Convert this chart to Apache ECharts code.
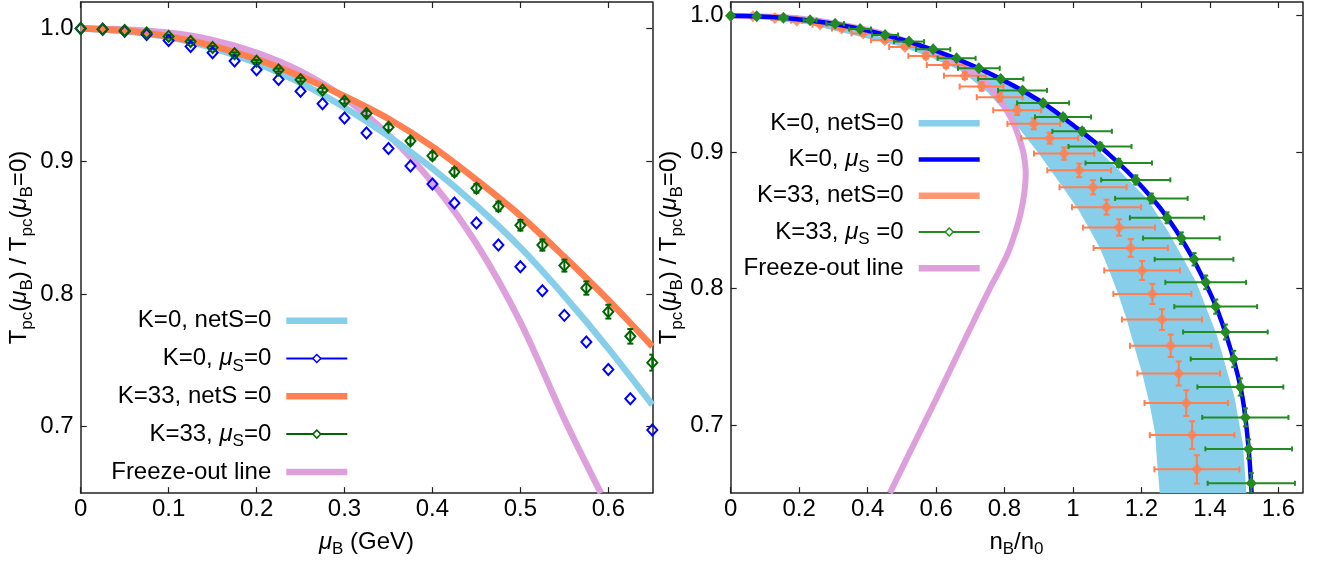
<!DOCTYPE html>
<html><head><meta charset="utf-8">
<script src="https://cdn.jsdelivr.net/npm/echarts@6/dist/echarts.min.js"></script>
<style>html,body{margin:0;padding:0;background:#fff}#c{width:1319px;height:563px}</style>
</head><body><div id="c"></div>
<script>
// ---------- Left panel: T_pc(muB)/T_pc(0) vs muB ----------
const muPts = [0,0.025,0.05,0.075,0.1,0.125,0.15,0.175,0.2,0.225,0.25,0.275,0.3,0.325,0.35,0.375,0.4,0.425,0.45,0.475,0.5,0.525,0.55,0.575,0.6,0.625,0.65,0.675,0.7,0.725,0.75];
// K=0, muS=0 (open blue diamonds), mu = 0 .. 0.65
const blueDiaT = [1.0,0.9995,0.998,0.9955,0.991,0.9865,0.9817,0.9755,0.969,0.9616,0.9528,0.9433,0.9326,0.9213,0.9096,0.8964,0.8828,0.8686,0.8535,0.837,0.8205,0.8025,0.7839,0.7638,0.7431,0.7211,0.6975];
// K=33, muS=0 (green diamonds), mu = 0 .. 0.75
const greenT = [1.0,0.9995,0.9985,0.9967,0.9941,0.9902,0.9858,0.981,0.9753,0.9687,0.9614,0.9536,0.9452,0.936,0.9257,0.9152,0.9041,0.892,0.8796,0.866,0.8518,0.8369,0.8214,0.8045,0.7867,0.7681,0.7483,0.7278,0.7055,0.6824,0.6572];
const greenTErr = [0,0,0,0,0.001,0.001,0.001,0.001,0.001,0.0012,0.0014,0.0016,0.0018,0.002,0.0022,0.0025,0.0027,0.003,0.0033,0.0036,0.004,0.0042,0.0045,0.005,0.0052,0.0055,0.006,0.0063,0.0066,0.007,0.0075];
// curves
const lineMu = [0,0.05,0.1,0.15,0.2,0.25,0.3,0.35,0.4,0.45,0.5,0.55,0.6,0.65];
const skyT = [1.0,0.998,0.9935,0.9855,0.974,0.959,0.9405,0.919,0.8945,0.8665,0.835,0.7985,0.759,0.7165];
const coralT = [1.0,0.9985,0.994,0.987,0.977,0.964,0.949,0.932,0.911,0.886,0.859,0.828,0.7955,0.7605];
const pinkMu = [0,0.05,0.1,0.15,0.2,0.25,0.3,0.35,0.4,0.45,0.5,0.55,0.5916];
const pinkT = [1.0,0.9993,0.9968,0.9913,0.9818,0.9678,0.9478,0.9198,0.8838,0.8378,0.7788,0.7058,0.65];

// ---------- Right panel: T vs nB/n0 ----------
const greenN = [0,0.076,0.154,0.232,0.305,0.378,0.451,0.521,0.5915,0.66,0.725,0.789,0.8525,0.9127,0.971,1.0267,1.079,1.1337,1.1834,1.229,1.2748,1.3167,1.3537,1.3878,1.417,1.4453,1.4695,1.489,1.5036,1.5133,1.521];
const greenNErr = [0,0.006,0.012,0.019,0.026,0.032,0.038,0.044,0.05,0.0555,0.061,0.066,0.0715,0.076,0.082,0.087,0.092,0.097,0.101,0.106,0.1085,0.112,0.115,0.118,0.121,0.1236,0.1255,0.1255,0.126,0.1265,0.1275];
const coralN = [0,0.065,0.129,0.193,0.261,0.324,0.387,0.45,0.509,0.57,0.629,0.684,0.733,0.786,0.837,0.8855,0.932,0.974,1.018,1.0587,1.098,1.1346,1.1688,1.2018,1.232,1.26,1.2855,1.309,1.331,1.348,1.362];
const coralPtT = [1.0,0.9996,0.9983,0.9963,0.9935,0.9905,0.987,0.982,0.977,0.9705,0.9638,0.956,0.948,0.9402,0.9306,0.9207,0.9102,0.8989,0.8866,0.8742,0.8596,0.8447,0.8297,0.8132,0.796,0.7772,0.758,0.7377,0.716,0.6925,0.6674];
const coralNErr = [0,0.005,0.01,0.016,0.022,0.028,0.034,0.04,0.046,0.051,0.056,0.061,0.064,0.067,0.07,0.077,0.083,0.088,0.093,0.098,0.101,0.105,0.1085,0.1105,0.114,0.117,0.119,0.1207,0.122,0.1236,0.124];
const coralTErr = [0,0,0,0,0.001,0.001,0.001,0.0015,0.0015,0.002,0.002,0.0025,0.003,0.003,0.0035,0.004,0.004,0.0045,0.005,0.0052,0.0055,0.006,0.0065,0.007,0.0074,0.0076,0.0082,0.0088,0.0094,0.0102,0.0104];
const blueN = [0,0.15,0.3,0.45,0.6,0.75,0.9,1.0,1.1,1.2,1.3,1.4,1.45,1.49,1.51,1.522];
const blueT = [1.0,0.9985,0.994,0.986,0.9742,0.9584,0.938,0.9198,0.8995,0.875,0.843,0.797,0.764,0.727,0.691,0.65];
const bandLeftN = [0,0.227,0.324,0.421,0.494,0.575,0.67,0.75,0.828,0.9,0.971,1.02,1.078,1.105,1.132,1.156,1.18,1.204,1.224,1.24,1.2457,1.2535];
const bandLeftT = [1.0,0.9936,0.9878,0.982,0.9775,0.9705,0.96,0.944,0.922,0.899,0.874,0.856,0.83,0.8137,0.796,0.778,0.757,0.736,0.715,0.694,0.6726,0.65];
const bandRightN = [0,0.3,0.6,0.85,1.0,1.125,1.2175,1.2777,1.3606,1.375,1.42,1.4725,1.4967,1.5066];
const bandRightT = [1.0,0.9937,0.9738,0.9445,0.9192,0.889,0.8654,0.842,0.8043,0.795,0.766,0.7196,0.6855,0.65];
const pinkN = [0,0.2,0.4,0.55,0.66,0.728,0.786,0.825,0.845,0.856,0.862,0.858,0.847,0.83,0.81,0.786,0.757,0.679,0.6015,0.533,0.4651];
const pinkNT = [1.0,0.998,0.9895,0.978,0.9645,0.9548,0.9384,0.9219,0.9085,0.8985,0.8843,0.8702,0.855,0.84,0.826,0.8137,0.80,0.76,0.7196,0.6848,0.65];

// ticks
const leftXTicks = [0,0.1,0.2,0.3,0.4,0.5,0.6];
const rightXTicks = [0,0.2,0.4,0.6,0.8,1,1.2,1.4,1.6];
const yTicks = [0.7,0.8,0.9,1.0];

const FF = '"Liberation Sans", Arial, Helvetica, sans-serif';
const zip = (a,b) => a.map((v,i)=>[v,b[i]]);
const C_SKY='#87CEEB', C_CORAL='#FF7F50', C_PINK='#DDA0DD', C_BLUE='#0000FF', C_DG='#006400', C_FG='#228B22';

const rich = {
  mu: {fontStyle:'italic', fontSize:24, lineHeight:32, fontFamily:FF, color:'#000'},
  sub: {fontSize:17, lineHeight:17, padding:[15,0,0,0], fontFamily:FF, color:'#000'},
  g: {width:10, fontSize:24, lineHeight:32, fontFamily:FF}
};
const nameStyle = {fontSize:24, lineHeight:32, fontFamily:FF, color:'#000', rich:rich};
const lineCol = '#222';

function xAx(grid, min, max, ticks, pos, name, gap) {
  const o = {gridIndex:grid, type:'value', min:min, max:max, position:pos,
    axisLine:{onZero:false, lineStyle:{color:lineCol, width:1.5}},
    axisTick:{inside:true, length:6, customValues:ticks, lineStyle:{color:lineCol, width:1.2}},
    axisLabel:{show:pos==='bottom', customValues:ticks, margin:4, fontSize:24, fontFamily:FF, color:'#000',
      formatter:v=>String(Math.round(v*10)/10)},
    splitLine:{show:false}};
  if (name) { o.name=name; o.nameLocation='middle'; o.nameGap=gap; o.nameTextStyle=nameStyle; }
  return o;
}
function yAx(grid, min, max, pos, name) {
  const o = {gridIndex:grid, type:'value', min:min, max:max, position:pos,
    axisLine:{onZero:false, lineStyle:{color:lineCol, width:1.5}},
    axisTick:{inside:true, length:6, customValues:yTicks, lineStyle:{color:lineCol, width:1.2}},
    axisLabel:{show:pos==='left', customValues:yTicks, margin:7, fontSize:24, fontFamily:FF, color:'#000',
      formatter:v=>v.toFixed(1)},
    splitLine:{show:false}};
  if (name) { o.name=name; o.nameLocation='middle'; o.nameRotate=90; o.nameGap=45; o.nameTextStyle=nameStyle; }
  return o;
}
const yName = 'T{sub|pc}({mu|μ}{sub|B}) / T{sub|pc}({mu|μ}{sub|B}=0)';

function errRender(color, cap) {
  return function(params, api) {
    const x=api.value(0), y=api.value(1), ex=api.value(2), ey=api.value(3);
    const st = {stroke:color, lineWidth:2, fill:null};
    const ch = [];
    if (ex>0) {
      const a=api.coord([x-ex,y]), b=api.coord([x+ex,y]);
      ch.push({type:'line', shape:{x1:a[0],y1:a[1],x2:b[0],y2:b[1]}, style:st});
      ch.push({type:'line', shape:{x1:a[0],y1:a[1]-cap,x2:a[0],y2:a[1]+cap}, style:st});
      ch.push({type:'line', shape:{x1:b[0],y1:b[1]-cap,x2:b[0],y2:b[1]+cap}, style:st});
    }
    if (ey>0) {
      const a=api.coord([x,y-ey]), b=api.coord([x,y+ey]);
      ch.push({type:'line', shape:{x1:a[0],y1:a[1],x2:b[0],y2:b[1]}, style:st});
      ch.push({type:'line', shape:{x1:a[0]-cap,y1:a[1],x2:a[0]+cap,y2:a[1]}, style:st});
      ch.push({type:'line', shape:{x1:b[0]-cap,y1:b[1],x2:b[0]+cap,y2:b[1]}, style:st});
    }
    return {type:'group', children:ch};
  };
}

const nL = blueDiaT.length;
const series = [
  // left panel
  {type:'line', name:'Freeze-out line', xAxisIndex:0, yAxisIndex:0, data:zip(pinkMu,pinkT), symbol:'none', smooth:0.3,
   lineStyle:{color:C_PINK, width:6.5}, itemStyle:{color:C_PINK}, z:2},
  {type:'line', name:'K=0, netS=0', xAxisIndex:0, yAxisIndex:0, data:zip(lineMu,skyT), symbol:'none', smooth:0.3,
   lineStyle:{color:C_SKY, width:6.5}, itemStyle:{color:C_SKY}, z:2},
  {type:'line', name:'K=33, netS =0', xAxisIndex:0, yAxisIndex:0, data:zip(lineMu,coralT), symbol:'none', smooth:0.3,
   lineStyle:{color:C_CORAL, width:6.5}, itemStyle:{color:C_CORAL}, z:2},
  {type:'line', name:'K=0, μS=0', xAxisIndex:0, yAxisIndex:0, data:zip(muPts.slice(0,nL),blueDiaT), symbol:'diamond', symbolSize:[10,11], showSymbol:true,
   lineStyle:{opacity:0}, itemStyle:{color:'rgba(255,255,255,0)', borderColor:C_BLUE, borderWidth:2}, z:3},
  {type:'custom', name:'errL', xAxisIndex:0, yAxisIndex:0, clip:true, encode:{x:0,y:1},
   data:muPts.slice(0,nL).map((m,i)=>[m,greenT[i],0,greenTErr[i]]), renderItem:errRender(C_DG,3), z:3},
  {type:'line', name:'K=33, μS=0', xAxisIndex:0, yAxisIndex:0, data:zip(muPts.slice(0,nL),greenT.slice(0,nL)), symbol:'diamond', symbolSize:[10,11], showSymbol:true,
   lineStyle:{opacity:0}, itemStyle:{color:'rgba(255,255,255,0)', borderColor:C_DG, borderWidth:2}, z:4},
  // right panel
  {type:'custom', name:'K=0, netS=0', xAxisIndex:2, yAxisIndex:2, clip:true, encode:{x:0,y:1},
   data:zip(bandLeftN,bandLeftT), itemStyle:{color:C_SKY},
   renderItem:function(params, api){
     if (params.dataIndex!==0) return;
     const pts=[];
     for (let i=0;i<bandLeftN.length;i++) pts.push(api.coord([bandLeftN[i],bandLeftT[i]]));
     for (let i=bandRightN.length-1;i>=0;i--) pts.push(api.coord([bandRightN[i],bandRightT[i]]));
     return {type:'polygon', shape:{points:pts}, style:{fill:C_SKY}};
   }, z:1},
  {type:'line', name:'Freeze-out line', xAxisIndex:2, yAxisIndex:2, data:zip(pinkN,pinkNT), symbol:'none', smooth:0.3,
   lineStyle:{color:C_PINK, width:6}, itemStyle:{color:C_PINK}, z:2},
  {type:'custom', name:'errOR', xAxisIndex:2, yAxisIndex:2, clip:true, encode:{x:0,y:1},
   data:coralN.map((n,i)=>[n,coralPtT[i],coralNErr[i],coralTErr[i]]), renderItem:errRender(C_CORAL,3), z:3},
  {type:'scatter', name:'K=33, netS=0', xAxisIndex:2, yAxisIndex:2, data:zip(coralN,coralPtT), symbol:'diamond', symbolSize:[11,12],
   itemStyle:{color:C_CORAL}, z:3},
  {type:'line', name:'K=0, μS =0', xAxisIndex:2, yAxisIndex:2, data:zip(blueN,blueT), symbol:'none', smooth:0.4,
   lineStyle:{color:C_BLUE, width:4.5}, itemStyle:{color:C_BLUE}, z:4},
  {type:'custom', name:'errGR', xAxisIndex:2, yAxisIndex:2, clip:true, encode:{x:0,y:1},
   data:greenN.map((n,i)=>[n,greenT[i],greenNErr[i],greenTErr[i]]), renderItem:errRender(C_FG,2.5), z:5},
  {type:'line', name:'K=33, μS =0', xAxisIndex:2, yAxisIndex:2, data:zip(greenN,greenT), symbol:'diamond', symbolSize:[11,12], showSymbol:true,
   lineStyle:{opacity:0}, itemStyle:{color:C_FG}, z:6}
];

const thick = 'path://M0,0H61V6.5H0Z';
const thin = 'path://M0,0H61V4.5H0Z';
function legItemLine(name, color) { return {name:name, icon:thick, itemStyle:{color:color, borderWidth:0}}; }
function legItemDia(name, color) {
  return {name:name, itemStyle:{color:'#fff', borderColor:color, borderWidth:1.5}, lineStyle:{color:color, width:2, opacity:1}};
}
function fmt(name){ return name.replace('μS','{mu|μ}{sub|S}') + '{g| }'; }
const legBase = {orient:'vertical', align:'right', itemWidth:61, itemHeight:10, padding:0, selectedMode:false,
  formatter:fmt, textStyle:{fontSize:24, lineHeight:32, fontFamily:FF, color:'#000', rich:rich}};

const option = {
  animation:false,
  backgroundColor:'#fff',
  grid:[{left:80.7, top:2, width:571.6, height:504.7},{left:730.7, top:2, width:571.6, height:510.3}],
  xAxis:[
    xAx(0,0,0.65,leftXTicks,'bottom','{mu|μ}{sub|B} (GeV)',11),
    xAx(0,0,0.65,leftXTicks,'top'),
    xAx(1,0,1.67,rightXTicks,'bottom','n{sub|B}/n{sub|0}',15),
    xAx(1,0,1.67,rightXTicks,'top')
  ],
  yAxis:[
    yAx(0,0.65,1.02,'left',yName),
    yAx(0,0.65,1.02,'right'),
    yAx(1,0.65,1.01,'left',yName),
    yAx(1,0.65,1.01,'right')
  ],
  legend:[
    Object.assign({}, legBase, {right:970.7, top:304.7, itemGap:5.8, data:[
      legItemLine('K=0, netS=0', C_SKY), legItemDia('K=0, μS=0', C_BLUE), legItemLine('K=33, netS =0', C_CORAL),
      legItemDia('K=33, μS=0', C_DG), legItemLine('Freeze-out line', C_PINK)]}),
    Object.assign({}, legBase, {right:338.3, top:107.3, itemGap:4.25, data:[
      legItemLine('K=0, netS=0', C_SKY), {name:'K=0, μS =0', icon:thin, itemStyle:{color:C_BLUE, borderWidth:0}},
      legItemLine('K=33, netS=0', C_CORAL), legItemDia('K=33, μS =0', C_FG), legItemLine('Freeze-out line', C_PINK)]})
  ],
  series:series
};
const chart = echarts.init(document.getElementById('c'));
chart.setOption(option);
</script></body></html>
